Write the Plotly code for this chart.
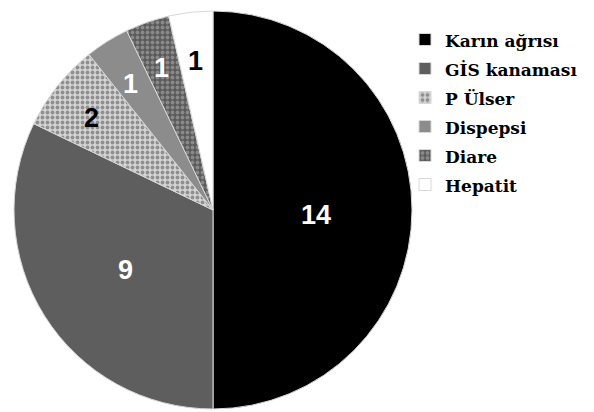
import math
import plotly.graph_objects as go

# Category labels and counts
labels = ["Karın ağrısı", "GİS kanaması", "P Ülser", "Dispepsi", "Diare", "Hepatit"]
counts = [14, 9, 2, 1, 1, 1]

# Slice styling
fill_colors = ["#000000", "#5e5e5e", "#d4d4d4", "#8c8c8c", "#5a5a5a", "#ffffff"]
pattern_shapes = ["", "", ".", "", ".", ""]
pattern_fg = ["#000000", "#5e5e5e", "#4a4a4a", "#8c8c8c", "#b8b8b8", "#ffffff"]
text_colors = ["white", "white", "black", "white", "white", "black"]

W, H = 594, 412
cx, cy, r = 213, 210, 199  # pie centre (px from top-left) and radius

# legend labels: serif text, taller rows via the legend font size
legend_labels = [
    f"<span style=\"font-family:'DejaVu Serif';font-size:17px;font-weight:bold\">{c}</span>"
    for c in labels
]

fig = go.Figure(
    go.Pie(
        labels=legend_labels,
        values=counts,
        sort=False,
        direction="clockwise",
        rotation=0,
        textinfo="none",
        marker=dict(
            colors=fill_colors,
            line=dict(color="#d8d8d8", width=1),
            pattern=dict(
                shape=pattern_shapes,
                fgcolor=pattern_fg,
                bgcolor=fill_colors,
                size=5,
                solidity=0.45,
                fillmode="overlay",
            ),
        ),
        domain=dict(
            x=[(cx - r) / W, (cx + r) / W],
            y=[(H - cy - r) / H, (H - cy + r) / H],
        ),
        hoverinfo="value",
    )
)

# value labels placed at each slice's mid-angle
total = sum(counts)
cum = 0
for v, col in zip(counts, text_colors):
    mid = (cum + v / 2) / total * 2 * math.pi  # clockwise from 12 o'clock
    cum += v
    frac = 0.52 if v / total > 0.25 else 0.78
    px = cx + frac * r * math.sin(mid)
    py = cy - frac * r * math.cos(mid)
    fig.add_annotation(
        x=px / W,
        y=1 - py / H,
        xref="paper",
        yref="paper",
        text=str(v),
        showarrow=False,
        xanchor="center",
        yanchor="middle",
        yshift=-5,
        font=dict(family="Liberation Sans", size=27, weight="bold", color=col),
    )

fig.update_layout(
    width=W,
    height=H,
    margin=dict(l=0, r=0, t=0, b=0),
    paper_bgcolor="white",
    plot_bgcolor="white",
    showlegend=True,
    legend=dict(
        x=405 / W,
        y=1 - 20 / H,
        xanchor="left",
        yanchor="top",
        font=dict(family="DejaVu Serif", size=20, color="black", weight="bold"),
        itemwidth=30,
        tracegroupgap=0,
        bgcolor="rgba(0,0,0,0)",
    ),
)

fig.write_html("out.html")
